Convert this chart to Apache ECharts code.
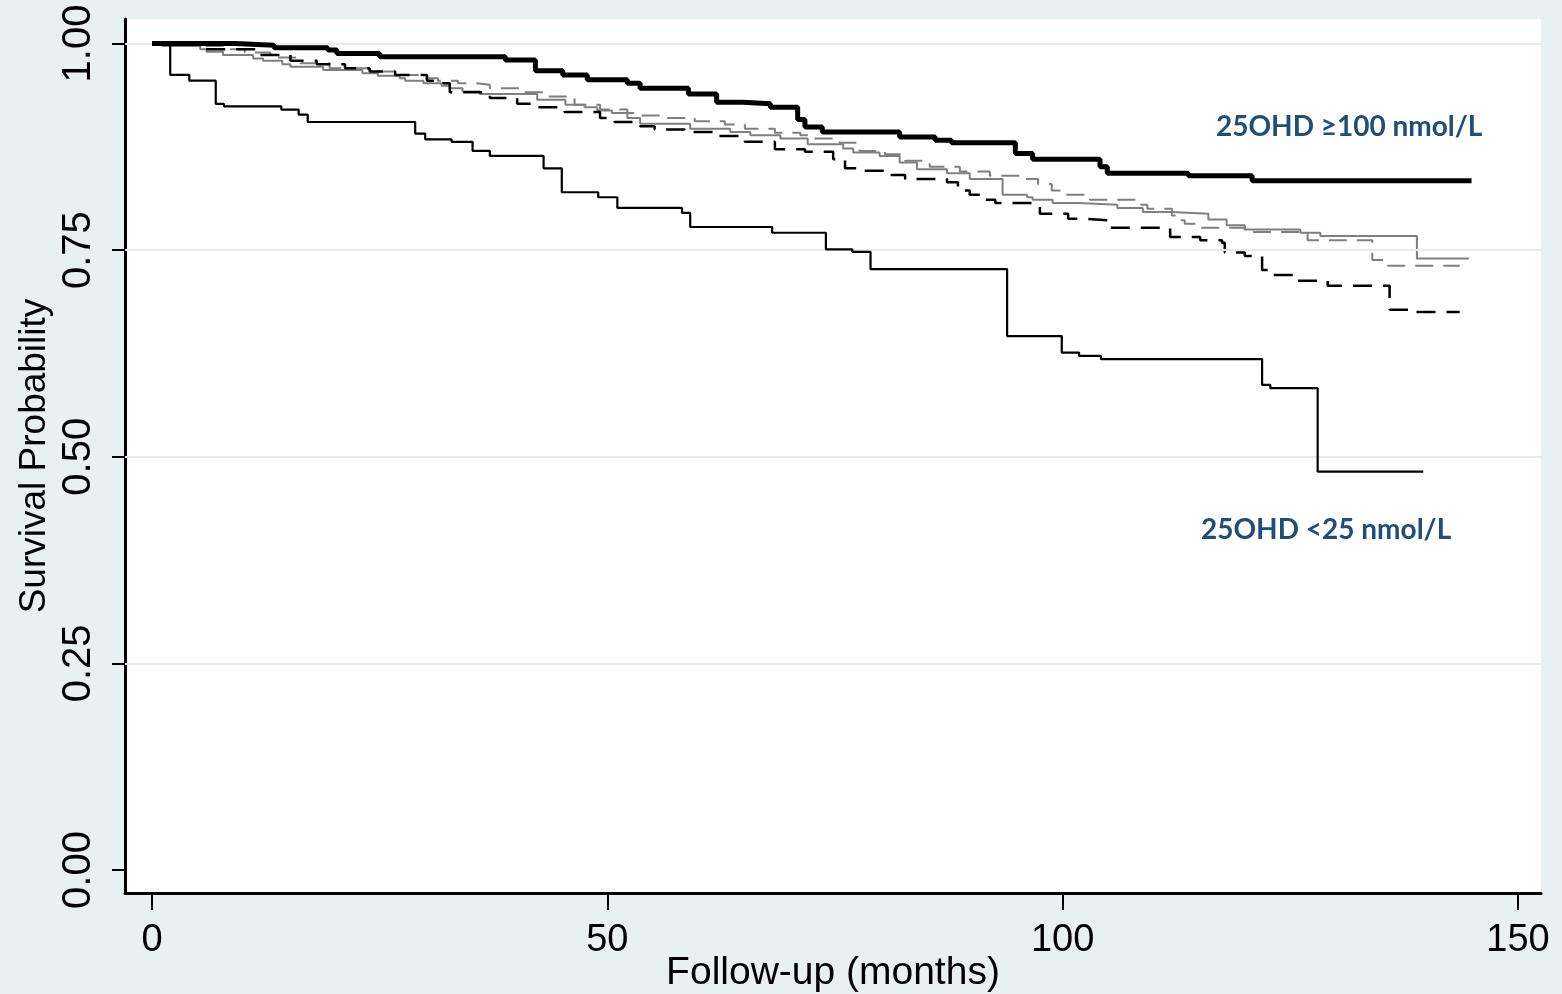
<!DOCTYPE html>
<html>
<head>
<meta charset="utf-8">
<script src="https://cdn.jsdelivr.net/npm/echarts@6/dist/echarts.min.js"></script>
<style>
html,body{margin:0;padding:0;background:#e9f0f2;}
#chart{width:1562px;height:994px;}
</style>
</head>
<body>
<div id="chart"></div>
<script>
// ---- Data ----
const xTicks = [0, 50, 100, 150];
const yTicks = [0, 0.25, 0.5, 0.75, 1.0];
const gridYValues = [0.25, 0.5, 0.75, 1.0];

// 25OHD >=100 nmol/L (thick black)
const timeHigh = [0, 9.1, 13.4, 19.3, 20.3, 25.0, 38.8, 42.1, 45.1, 47.8, 52.2, 53.6, 58.9, 62.0, 64.9, 67.9, 70.9, 71.7, 73.6, 82.1, 86.0, 87.8, 94.8, 96.7, 104.1, 104.9, 113.8, 120.8, 144.9];
const survHigh = [1.000, 0.998, 0.995, 0.992, 0.988, 0.984, 0.980, 0.967, 0.962, 0.956, 0.952, 0.946, 0.939, 0.929, 0.927, 0.923, 0.908, 0.899, 0.893, 0.887, 0.883, 0.880, 0.867, 0.860, 0.851, 0.843, 0.840, 0.834, 0.834];

// 25OHD <25 nmol/L (thin black)
const timeLow = [0, 2.0, 4.1, 7.0, 7.9, 14.2, 16.1, 17.1, 28.9, 30.0, 32.9, 35.2, 37.1, 43.0, 45.0, 49.0, 51.1, 58.2, 59.1, 68.1, 74.0, 76.9, 78.9, 93.9, 99.9, 101.8, 104.2, 121.9, 122.8, 128.0, 139.6];
const survLow = [1.000, 0.962, 0.955, 0.927, 0.924, 0.920, 0.914, 0.905, 0.891, 0.884, 0.881, 0.870, 0.864, 0.849, 0.820, 0.814, 0.801, 0.795, 0.778, 0.771, 0.751, 0.748, 0.727, 0.646, 0.626, 0.622, 0.618, 0.587, 0.583, 0.482, 0.482];

// black dashed group
const timeDashBlack = [0, 5.3, 11.5, 15.2, 18.1, 21.2, 23.9, 26.7, 30.2, 32.0, 32.7, 37.1, 40.1, 42.1, 45.3, 49.2, 50.8, 53.6, 55.2, 58.5, 61.8, 65.1, 68.4, 71.7, 74.8, 76.1, 77.5, 81.0, 82.7, 87.3, 88.5, 89.8, 91.5, 92.6, 96.4, 97.5, 100.6, 102.4, 105.2, 111.8, 115.1, 117.5, 117.8, 120.0, 121.9, 122.8, 125.8, 129.1, 135.9, 138.7, 143.6];
const survDashBlack = [1.000, 0.993, 0.986, 0.979, 0.975, 0.970, 0.966, 0.962, 0.955, 0.952, 0.941, 0.934, 0.927, 0.923, 0.917, 0.910, 0.905, 0.900, 0.896, 0.893, 0.888, 0.881, 0.872, 0.869, 0.860, 0.849, 0.846, 0.841, 0.836, 0.832, 0.822, 0.817, 0.811, 0.807, 0.805, 0.794, 0.788, 0.786, 0.777, 0.766, 0.762, 0.759, 0.747, 0.743, 0.726, 0.720, 0.713, 0.707, 0.678, 0.675, 0.675];

// grey solid group
const timeGrey = [0, 1.1, 5.3, 6.0, 7.8, 11.1, 12.2, 14.3, 15.2, 18.8, 23.1, 24.8, 27.2, 27.8, 29.8, 31.8, 32.7, 34.1, 36.0, 42.3, 45.4, 47.5, 48.9, 50.5, 52.2, 53.6, 59.1, 63.5, 65.7, 69.0, 72.0, 75.9, 77.0, 79.9, 82.1, 84.0, 87.3, 89.8, 93.4, 96.1, 96.7, 98.9, 101.7, 106.0, 108.8, 112.0, 116.0, 118.0, 120.0, 126.1, 128.3, 138.9, 144.6];
const survGrey = [1.000, 0.997, 0.993, 0.990, 0.986, 0.982, 0.979, 0.975, 0.972, 0.968, 0.964, 0.961, 0.958, 0.955, 0.952, 0.949, 0.946, 0.942, 0.939, 0.932, 0.926, 0.923, 0.919, 0.916, 0.910, 0.903, 0.897, 0.893, 0.889, 0.885, 0.878, 0.873, 0.868, 0.864, 0.856, 0.848, 0.843, 0.836, 0.817, 0.814, 0.811, 0.807, 0.805, 0.801, 0.796, 0.794, 0.787, 0.780, 0.775, 0.771, 0.767, 0.740, 0.740];

// grey dashed group
const timeGreyDash = [0, 1.4, 8.6, 10.2, 13.0, 16.3, 19.5, 24.5, 27.2, 30.0, 31.4, 33.6, 35.5, 37.1, 40.4, 43.2, 46.4, 49.2, 52.2, 53.6, 55.8, 59.6, 62.9, 65.1, 68.4, 71.2, 72.5, 75.5, 77.7, 80.5, 82.7, 85.4, 88.7, 92.0, 95.9, 97.3, 98.8, 99.9, 103.0, 108.5, 109.3, 112.0, 112.9, 113.4, 115.1, 120.0, 126.9, 134.0, 135.4, 143.6];
const survGreyDash = [1.000, 0.997, 0.993, 0.989, 0.983, 0.976, 0.970, 0.966, 0.962, 0.958, 0.955, 0.952, 0.950, 0.946, 0.941, 0.936, 0.926, 0.920, 0.916, 0.913, 0.910, 0.906, 0.902, 0.897, 0.892, 0.889, 0.885, 0.880, 0.870, 0.866, 0.858, 0.851, 0.845, 0.840, 0.836, 0.830, 0.822, 0.817, 0.811, 0.805, 0.800, 0.792, 0.786, 0.782, 0.777, 0.772, 0.762, 0.738, 0.731, 0.731];

const labelHigh = '25OHD \u2265100 nmol/L';
const labelLow = '25OHD <25 nmol/L';

// ---- Layout ----
const W = 1562, H = 994;
const plotLeft = 125, plotRight = 1541, plotTop = 19, plotBottom = 893;
const px0 = 152, px150 = 1518;      // x pixel of 0 and 150 months
const py1 = 43.5, py0 = 870;        // y pixel of 1.00 and 0.00
const xScale = (px150 - px0) / 150;
const yScale = (py0 - py1) / 1;
const xMin = -(px0 - plotLeft) / xScale;
const xMax = 150 + (plotRight - px150) / xScale;
const yMin = -(plotBottom - py0) / yScale;
const yMax = 1 + (py1 - plotTop) / yScale;

function pairs(t, s) { return t.map((v, i) => [v, s[i]]); }

const chart = echarts.init(document.getElementById('chart'), null, {renderer: 'canvas'});
const axisFont = "'Liberation Sans', Arial, sans-serif";

const option = {
  animation: false,
  backgroundColor: '#e9f0f2',
  grid: {
    left: plotLeft, right: W - plotRight, top: plotTop, bottom: H - plotBottom,
    containLabel: false, outerBoundsMode: 'none',
    show: true, backgroundColor: '#ffffff', borderWidth: 0
  },
  xAxis: {
    type: 'value', min: xMin, max: xMax,
    name: 'Follow-up (months)', nameLocation: 'middle', nameGap: 61, nameMoveOverlap: false,
    nameTextStyle: {fontFamily: axisFont, fontSize: 39, color: '#000'},
    axisLine: {onZero: false, lineStyle: {color: '#000', width: 3}},
    axisTick: {customValues: xTicks, length: 17, lineStyle: {color: '#000', width: 2}},
    axisLabel: {customValues: xTicks, margin: 29, fontFamily: axisFont, fontSize: 38, color: '#000', formatter: v => String(Math.round(v))},
    splitLine: {show: false}
  },
  yAxis: {
    type: 'value', min: yMin, max: yMax,
    name: 'Survival Probability', nameLocation: 'middle', nameGap: 72, nameRotate: 90, nameMoveOverlap: false,
    nameTextStyle: {fontFamily: axisFont, fontSize: 37, color: '#000'},
    axisLine: {onZero: false, lineStyle: {color: '#000', width: 3}},
    axisTick: {customValues: yTicks, length: 13, lineStyle: {color: '#000', width: 2}},
    axisLabel: {customValues: yTicks, rotate: 90, margin: 26, fontFamily: axisFont, fontSize: 40, color: '#000', formatter: v => v.toFixed(2)},
    splitLine: {show: false}
  },
  series: [
    {
      type: 'line', data: [], z: 1, silent: true,
      markLine: {
        silent: true, symbol: 'none', label: {show: false},
        lineStyle: {color: '#e4ecf0', width: 2, type: 'solid'},
        data: gridYValues.map(v => ({yAxis: v}))
      }
    },
    {type: 'line', name: 'grey dashed', step: 'end', showSymbol: false, z: 2, data: pairs(timeGreyDash, survGreyDash),
      lineStyle: {color: '#7f7f7f', width: 2, type: [18, 10]}},
    {type: 'line', name: 'grey', step: 'end', showSymbol: false, z: 3, data: pairs(timeGrey, survGrey),
      lineStyle: {color: '#7f7f7f', width: 2}},
    {type: 'line', name: 'black dashed', step: 'end', showSymbol: false, z: 4, data: pairs(timeDashBlack, survDashBlack),
      lineStyle: {color: '#000', width: 2.5, type: [19, 11]}},
    {type: 'line', name: '<25', step: 'end', showSymbol: false, z: 5, data: pairs(timeLow, survLow),
      lineStyle: {color: '#000', width: 2.2}},
    {type: 'line', name: '>=100', step: 'end', showSymbol: false, z: 6, data: pairs(timeHigh, survHigh),
      lineStyle: {color: '#000', width: 5}}
  ],
  graphic: [
    {type: 'text', left: 1216, top: 113, z: 10,
      style: {text: labelHigh, fill: '#1f4e79', font: "bold 28px Lato, 'Open Sans', sans-serif"}},
    {type: 'text', left: 1201, top: 516, z: 10,
      style: {text: labelLow, fill: '#1f4e79', font: "bold 28px Lato, 'Open Sans', sans-serif"}}
  ]
};
chart.setOption(option);
</script>
</body>
</html>
